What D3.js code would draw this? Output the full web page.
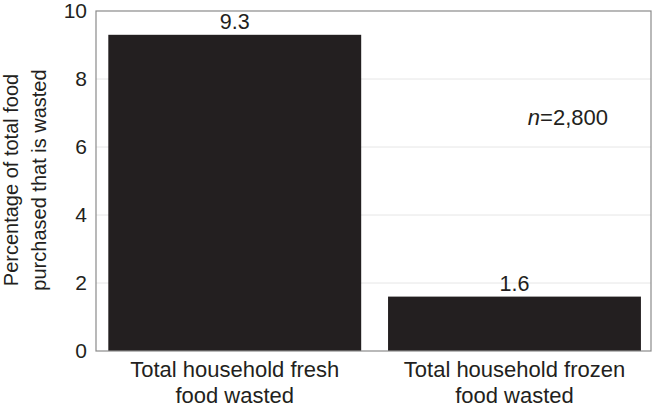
<!DOCTYPE html>
<html>
<head>
<meta charset="utf-8">
<script src="https://cdn.jsdelivr.net/npm/d3@7"></script>
<style>
  body { margin: 0; background: #fff; }
  text { font-family: Helvetica, Arial, "Liberation Sans", sans-serif; fill: #231f20; }
</style>
</head>
<body>
<svg id="chart" width="655" height="408"></svg>
<script>
const categories = [['Total household fresh', 'food wasted'], ['Total household frozen', 'food wasted']]
const values = [9.3, 1.6]
const yTicks = [0, 2, 4, 6, 8, 10]
const yLabel = ['Percentage of total food', 'purchased that is wasted']

const margin = { top: 11, right: 4, bottom: 57, left: 96 }
const width = 655 - margin.left - margin.right
const height = 408 - margin.top - margin.bottom

const svg = d3.select('#chart')
const g = svg.append('g').attr('transform', `translate(${margin.left},${margin.top})`)

const x = d3.scaleBand()
  .domain(d3.range(values.length))
  .range([0, width])
  .paddingInner(0.096)
  .paddingOuter(0.04)
  .align(0.55)

const y = d3.scaleLinear().domain([0, 10]).range([height, 0])

// gridlines
g.selectAll('.grid')
  .data(yTicks.filter(d => d > 0 && d < 10))
  .enter().append('line')
  .attr('x1', 0).attr('x2', width)
  .attr('y1', d => y(d)).attr('y2', d => y(d))
  .style('stroke', '#e6e6e6')
  .style('stroke-width', 1)

// bars
g.selectAll('.bar')
  .data(values)
  .enter().append('rect')
  .attr('x', (d, i) => x(i))
  .attr('width', x.bandwidth())
  .attr('y', d => y(d))
  .attr('height', d => height - y(d))
  .style('fill', '#231f20')

// value labels
g.selectAll('.val')
  .data(values)
  .enter().append('text')
  .attr('x', (d, i) => x(i) + x.bandwidth() / 2)
  .attr('y', d => y(d) - 6)
  .attr('text-anchor', 'middle')
  .style('font-size', '21.5px')
  .text(d => d.toFixed(1))

// frame
g.append('rect')
  .attr('width', width).attr('height', height)
  .style('fill', 'none')
  .style('stroke', '#8a8a8a')
  .style('stroke-width', 1.2)

// y axis
const yAxis = g.append('g').call(d3.axisLeft(y).tickValues(yTicks).tickSize(0).tickPadding(9))
yAxis.select('.domain').remove()
yAxis.selectAll('text')
  .style('font-size', '21px')
  .style('font-family', 'Helvetica, Arial, "Liberation Sans", sans-serif')
  .style('fill', '#231f20')

// x axis labels
const xl = g.selectAll('.xl')
  .data(categories)
  .enter().append('text')
  .attr('x', (d, i) => x(i) + x.bandwidth() / 2)
  .attr('y', height + 26)
  .attr('text-anchor', 'middle')
  .style('font-size', '22px')
xl.selectAll('tspan')
  .data(d => d)
  .enter().append('tspan')
  .attr('x', function () { return d3.select(this.parentNode).attr('x') })
  .attr('dy', (d, i) => i === 0 ? 0 : 26)
  .text(d => d)

// y label
const yl = svg.append('text')
  .attr('transform', 'translate(18,180) rotate(-90)')
  .attr('text-anchor', 'middle')
  .style('font-size', '20px')
yl.selectAll('tspan')
  .data(yLabel)
  .enter().append('tspan')
  .attr('x', 0)
  .attr('dy', (d, i) => i === 0 ? 0 : 28)
  .text(d => d)

// sample size note
const note = g.append('text')
  .attr('x', width - 43)
  .attr('y', y(6.65))
  .attr('text-anchor', 'end')
  .style('font-size', '22px')
note.append('tspan').style('font-style', 'italic').text('n')
note.append('tspan').text('=2,800')
</script>
</body>
</html>
